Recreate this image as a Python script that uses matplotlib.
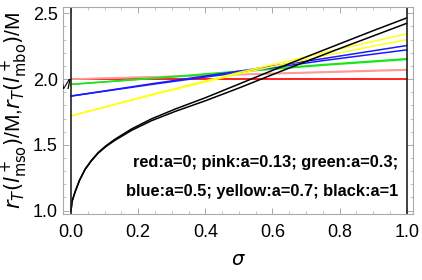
import matplotlib
matplotlib.use("Agg")
import matplotlib.pyplot as plt
from matplotlib.ticker import MultipleLocator

# ----------------------------------
# Data
# ----------------------------------
sig_lin = [0.0, 0.25, 0.5, 0.75, 1.0]

red_1    = [2.0, 2.0, 2.0, 2.0, 2.0]
red_2    = [2.0, 2.0, 2.0, 2.0, 2.0]
pink_1   = [2.0, 2.018, 2.036, 2.055, 2.073]
pink_2   = [2.0, 2.016, 2.033, 2.050, 2.068]
green_1  = [1.96, 2.008, 2.060, 2.110, 2.155]
green_2  = [1.96, 2.006, 2.055, 2.105, 2.149]
blue_1   = [1.871, 1.968, 2.060, 2.155, 2.255]
blue_2   = [1.871, 1.963, 2.050, 2.140, 2.222]
yellow_1 = [1.72, 1.890, 2.050, 2.200, 2.344]
yellow_2 = [1.72, 1.885, 2.040, 2.175, 2.300]

sig_blk = [0.0, 0.003, 0.012, 0.025, 0.042, 0.06, 0.081, 0.105, 0.131,
           0.181, 0.24, 0.31, 0.4, 0.5, 0.6, 0.7, 0.8, 0.9, 1.0]
black_1 = [1.0, 1.07, 1.142, 1.23, 1.316, 1.38, 1.442, 1.495, 1.543,
           1.622, 1.698, 1.772, 1.858, 1.962, 2.066, 2.168, 2.268, 2.368, 2.465]
black_2 = [1.0, 1.07, 1.141, 1.228, 1.313, 1.376, 1.437, 1.489, 1.535,
           1.611, 1.684, 1.754, 1.835, 1.932, 2.034, 2.134, 2.232, 2.328, 2.424]

series = [
    (red_1, red_2, "#ff1a1a"),
    (pink_1, pink_2, "#ff9a9a"),
    (green_1, green_2, "#19e619"),
    (blue_1, blue_2, "#1a1aff"),
    (yellow_1, yellow_2, "#ffff1a"),
]

legend_text = "red:a=0; pink:a=0.13; green:a=0.3;\nblue:a=0.5; yellow:a=0.7; black:a=1"

# ----------------------------------
# Figure
# ----------------------------------
plt.rcParams["font.family"] = ["Liberation Sans", "DejaVu Sans"]
fig = plt.figure(figsize=(4.22, 2.80), dpi=100)
ax = fig.add_axes([0.150, 0.236, 0.829, 0.739])

for y1, y2, col in series:
    ax.plot(sig_lin, y1, color=col, lw=1.1)
    ax.plot(sig_lin, y2, color=col, lw=1.1)
ax.plot(sig_blk, black_1, color="black", lw=1.1)
ax.plot(sig_blk, black_2, color="black", lw=1.1)

# vertical axis lines at sigma = 0 and sigma = 1
ax.axvline(0.0, color="#222222", lw=1.2)
ax.axvline(1.0, color="#222222", lw=1.2)

ax.set_xlim(-0.023, 1.019)
ax.set_ylim(0.975, 2.548)

ax.xaxis.set_major_locator(MultipleLocator(0.2))
ax.xaxis.set_minor_locator(MultipleLocator(0.05))
ax.yaxis.set_major_locator(MultipleLocator(0.5))
ax.yaxis.set_minor_locator(MultipleLocator(0.1))
ax.xaxis.set_major_formatter(lambda v, p: f"{v:.1f}")
ax.yaxis.set_major_formatter(lambda v, p: f"{v:.1f}")

ax.tick_params(which="both", direction="in", top=True, right=True,
               color="#aaaaaa", labelsize=13, labelcolor="black")
ax.tick_params(which="major", length=4, width=0.7)
ax.tick_params(which="minor", length=2, width=0.5)
ax.tick_params(axis="x", pad=7)
ax.tick_params(axis="y", pad=4)
for s in ax.spines.values():
    s.set_color("#aaaaaa")
    s.set_linewidth(0.8)

ax.set_xlabel(r"$\sigma$", fontsize=14, labelpad=8)
ax.set_ylabel(r"$r_T(l^+_{\rm mso})$/M,$r_T(l^+_{\rm mbo})$/M", fontsize=15, labelpad=2)

# leftover "M" next to the axis line, clipped by the frame
ax.text(-0.002, 1.955, "M", fontsize=11, style="italic", ha="right", va="center",
        clip_on=True)

ax.text(0.975, 1.255, legend_text, fontsize=11.8, fontweight="bold",
        ha="right", va="center", linespacing=2.1)

fig.savefig("out.png", dpi=100)
